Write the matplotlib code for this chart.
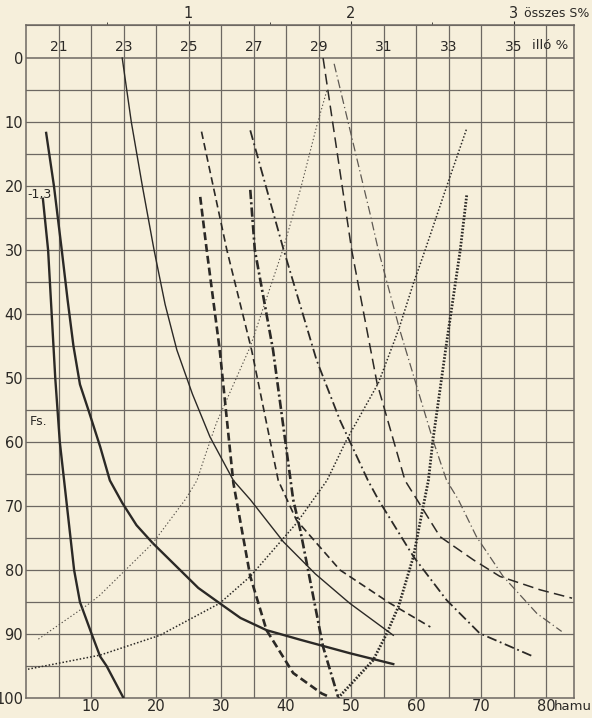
import matplotlib
matplotlib.use('Agg')
import matplotlib.pyplot as plt

# ---------------------------------------------------------------------------
# Adatok (leolvasva): hamu % (x) és Fs. (y, lefelé nő)
# ---------------------------------------------------------------------------

hamu_A = [2.6, 3.4, 4.5, 5.2, 6.3, 7.4, 8.3, 10.1, 11.4, 12.4, 15.0]
fs_A   = [22.0, 30.0, 50.0, 60.0, 70.0, 80.0, 85.0, 90.0, 93.5, 95.0, 100.0]

hamu_B = [3.1, 4.3, 5.5, 6.4, 7.3, 8.3, 9.6, 11.4, 12.9, 14.8, 17.0, 19.5, 23.7,
          26.5, 29.8, 33.0, 37.0, 42.2, 49.8, 56.5]
fs_B   = [11.7, 20.0, 30.0, 37.8, 45.0, 51.0, 55.0, 60.7, 66.0, 69.5, 73.0, 75.8, 80.0,
          82.8, 85.2, 87.5, 89.4, 90.9, 93.0, 94.7]

hamu_C = [14.8, 16.2, 17.9, 19.7, 21.4, 23.2, 25.6, 28.3, 31.9, 34.5, 39.6, 44.5, 49.8, 56.5]
fs_C   = [0.0, 10.0, 20.0, 30.0, 38.5, 45.6, 52.5, 59.2, 66.0, 69.0, 75.6, 80.6, 85.2, 90.2]

hamu_D1 = [1.9, 9.8, 11.4, 19.5, 24.5, 26.3, 27.6, 29.3, 34.5, 39.5, 42.2, 44.7, 46.3]
fs_D1   = [90.8, 85.2, 83.9, 75.8, 69.0, 66.0, 62.0, 57.0, 45.1, 30.0, 20.6, 10.7, 5.0]

hamu_D2 = [0.3, 11.4, 20.6, 29.8, 34.5, 41.6, 46.3, 49.3, 54.2, 57.3, 59.6, 61.4, 64.7, 67.8]
fs_D2   = [95.5, 93.3, 90.2, 85.2, 81.0, 72.7, 66.0, 59.7, 50.8, 42.5, 35.2, 30.0, 20.1, 11.0]

hamu_D3 = [48.0, 53.4, 55.5, 57.3, 59.6, 60.9, 61.9, 62.6, 64.7, 66.8, 67.8]
fs_D3   = [100.0, 94.1, 89.9, 85.7, 77.9, 71.1, 66.0, 59.7, 44.5, 30.0, 21.4]

hamu_E = [26.8, 27.8, 29.8, 31.9, 34.5, 37.0, 41.1, 45.5, 46.6]
fs_E   = [21.7, 30.0, 45.6, 66.4, 81.0, 89.4, 96.1, 99.3, 99.8]

hamu_F = [34.5, 35.2, 38.0, 41.1, 42.2, 45.7, 48.0]
fs_F   = [20.6, 30.0, 45.6, 69.0, 73.8, 92.0, 99.8]

hamu_G = [27.0, 30.9, 34.7, 38.8, 41.6, 48.3, 56.0, 62.2]
fs_G   = [11.5, 30.0, 45.6, 66.0, 72.2, 80.0, 85.2, 88.9]

hamu_H = [45.7, 50.1, 54.0, 58.3, 63.7, 68.8, 72.9, 79.1, 84.0]
fs_H   = [0.0, 30.0, 50.8, 66.0, 74.8, 78.4, 81.0, 83.1, 84.4]

hamu_I = [34.5, 39.5, 44.7, 48.3, 52.6, 54.2, 59.6, 64.7, 69.8, 78.0]
fs_I   = [11.3, 29.5, 47.2, 56.6, 66.0, 69.0, 77.9, 84.7, 89.9, 93.5]

hamu_J = [47.4, 52.9, 54.2, 57.5, 62.6, 64.7, 66.5, 69.3, 73.4, 78.6, 82.4]
fs_J   = [0.9, 24.2, 30.0, 42.5, 59.7, 66.0, 69.0, 74.8, 81.0, 86.8, 89.6]

hamu_ticks = [10, 20, 30, 40, 50, 60, 70, 80]
fs_ticks   = [0, 10, 20, 30, 40, 50, 60, 70, 80, 90, 100]
illo_ticks = [21, 23, 25, 27, 29, 31, 33, 35]
s_ticks    = [1, 2, 3]

# ---------------------------------------------------------------------------
# Ábra
# ---------------------------------------------------------------------------

papir = '#f6efdb'
tinta = '#2b2926'
racs  = '#6d6862'

plt.rcParams['font.family'] = 'DejaVu Sans'

fig = plt.figure(figsize=(5.92, 7.18), dpi=100, facecolor=papir)
ax = fig.add_axes([26 / 592, 20 / 718, 548 / 592, 673 / 718])
ax.set_facecolor(papir)
ax.set_xlim(0, 84.3)
ax.set_ylim(100, -5.16)

# rácsvonalak 5 egységenként
for gx in range(5, 85, 5):
    ax.axvline(gx, color=racs, lw=0.9, zorder=1)
for gy in range(0, 100, 5):
    ax.axhline(gy, color=racs, lw=1.1 if gy == 0 else 0.9, zorder=1)

for sp in ax.spines.values():
    sp.set_color(racs)
    sp.set_linewidth(1.1)

# görbék
ax.plot(hamu_A, fs_A, color=tinta, lw=1.7, zorder=3)
ax.plot(hamu_B, fs_B, color=tinta, lw=1.7, zorder=3)
ax.plot(hamu_C, fs_C, color=tinta, lw=1.0, zorder=3)
ax.plot(hamu_D1, fs_D1, color='#555049', lw=0.8, ls=(0, (1.2, 2.0)), zorder=3)
ax.plot(hamu_D2, fs_D2, color=tinta, lw=1.1, ls=(0, (1.0, 1.3)), zorder=3)
ax.plot(hamu_D3, fs_D3, color=tinta, lw=2.0, ls=(0, (0.6, 0.6)), zorder=3)
ax.plot(hamu_E, fs_E, color=tinta, lw=1.9, ls=(0, (3.0, 1.5)), zorder=3)
ax.plot(hamu_F, fs_F, color=tinta, lw=1.9, ls=(0, (3.5, 1.2, 0.8, 1.2)), zorder=3)
ax.plot(hamu_G, fs_G, color=tinta, lw=1.2, ls=(0, (4.5, 2.5)), zorder=3)
ax.plot(hamu_H, fs_H, color=tinta, lw=1.1, ls=(0, (7.0, 3.5)), zorder=3)
ax.plot(hamu_I, fs_I, color=tinta, lw=1.3, ls=(0, (5.5, 2.0, 1.0, 2.0)), zorder=3)
ax.plot(hamu_J, fs_J, color='#5e5953', lw=0.9, ls=(0, (7.0, 2.5, 1.0, 2.5)), zorder=3)

# tengelyek
ax.set_xticks(hamu_ticks)
ax.set_xticklabels([str(v) for v in hamu_ticks])
ax.set_yticks(fs_ticks)
ax.set_yticklabels([str(v) for v in fs_ticks])
ax.tick_params(axis='both', length=0, labelsize=10.5, colors=tinta, pad=2)
ax.tick_params(axis='x', pad=1)
ax.text(81.2, 100.3, 'hamu', ha='left', va='top', fontsize=9.5, color=tinta,
        clip_on=False)

# illó % skála a felső sávban
for v in illo_ticks:
    ax.text((v - 20) * 5, -1.7, str(v), ha='center', va='center',
            fontsize=10, color=tinta)
ax.text(80.6, -1.9, 'illó %', ha='center', va='center', fontsize=9.5, color=tinta)

# összes S% skála legfelül
sec = ax.secondary_xaxis('top', functions=(lambda a: a / 25, lambda s: s * 25))
sec.set_xticks(s_ticks)
sec.set_xticklabels([str(v) for v in s_ticks])
sec.set_xticks([0.5, 1.5, 2.5], minor=True)
sec.tick_params(axis='x', which='major', length=3, colors=tinta, labelsize=10.5, pad=0)
sec.tick_params(axis='x', which='minor', length=2, colors=tinta)
sec.spines['top'].set_color(racs)
ax.text(76.6, -7.0, 'összes S%', ha='left', va='center', fontsize=9,
        color=tinta, clip_on=False)

# feliratok a görbék mellett
ax.text(0.2, 21.4, '-1,3', ha='left', va='center', fontsize=9, color=tinta)
ax.text(0.6, 56.8, 'Fs.', ha='left', va='center', fontsize=9, color=tinta)

plt.savefig('out.png', dpi=100, facecolor=papir)
